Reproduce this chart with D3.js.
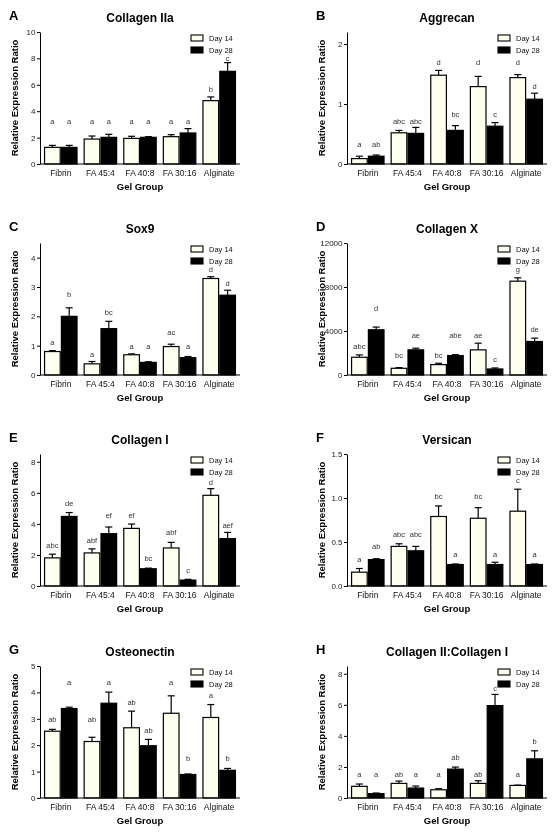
<!DOCTYPE html>
<html><head><meta charset="utf-8">
<script src="https://cdn.jsdelivr.net/npm/d3@7"></script>
<style>
html,body{margin:0;padding:0;background:#fff;}
svg{display:block;font-family:"Liberation Sans",Arial,sans-serif;will-change:transform;-webkit-font-smoothing:antialiased;}
</style></head>
<body>
<svg id="chart" width="555" height="833"></svg>
<script>
const categories = ["Fibrin","FA 45:4","FA 40:8","FA 30:16","Alginate"];
const seriesNames = ["Day 14","Day 28"];
const panelIds = ["A","B","C","D","E","F","G","H"];
const panelTitles = ["Collagen IIa","Aggrecan","Sox9","Collagen X","Collagen I","Versican","Osteonectin","Collagen II:Collagen I"];
const yMaxes = [10, 2.2, 4.5, 12000, 8.5, 1.5, 5, 8.5];
const yTicks = [[0,2,4,6,8,10],[0,1,2],[0,1,2,3,4],[0,4000,8000,12000],[0,2,4,6,8],[0,0.5,1.0,1.5],[0,1,2,3,4,5],[0,2,4,6,8]];
const yTickFormats = ["d","d","d","d","d",".1f","d","d"];
const xLabel = "Gel Group";
const yLabel = "Relative Expression Ratio";

// Day 14 means and SEM
const day14 = [
  [1.26,1.89,1.94,2.07,4.80],
  [0.09,0.52,1.48,1.29,1.44],
  [0.80,0.38,0.69,0.97,3.29],
  [1614,609,944,2285,8529],
  [1.81,2.13,3.71,2.45,5.84],
  [0.157,0.45,0.79,0.77,0.85],
  [2.53,2.14,2.66,3.21,3.05],
  [0.75,0.94,0.53,0.94,0.81]
];
const day14Err = [
  [0.15,0.23,0.16,0.15,0.28],
  [0.04,0.04,0.08,0.17,0.05],
  [0.03,0.08,0.03,0.08,0.06],
  [214,61,122,609,304],
  [0.24,0.26,0.28,0.36,0.43],
  [0.042,0.03,0.12,0.12,0.25],
  [0.07,0.16,0.63,0.66,0.49],
  [0.15,0.15,0.07,0.17,0.02]
];
// Day 28 means and SEM
const day28 = [
  [1.26,2.02,2.02,2.35,7.02],
  [0.13,0.51,0.56,0.63,1.08],
  [2.00,1.58,0.43,0.59,2.72],
  [4112,2285,1767,548,3046],
  [4.48,3.37,1.11,0.38,3.05],
  [0.30,0.40,0.244,0.244,0.244],
  [3.39,3.59,1.98,0.89,1.05],
  [0.28,0.64,1.86,5.95,2.52]
];
const day28Err = [
  [0.15,0.23,0.05,0.33,0.66],
  [0.02,0.10,0.08,0.06,0.10],
  [0.29,0.25,0.02,0.04,0.17],
  [244,152,91,92,305],
  [0.25,0.43,0.04,0.05,0.40],
  [0.01,0.05,0.006,0.026,0.006],
  [0.05,0.42,0.24,0.02,0.07],
  [0.04,0.13,0.13,0.72,0.52]
];
// significance letters and their heights (data units)
const sig14 = [
  ["a","a","a","a","b"],
  ["a","abc","d","d","d"],
  ["a","a","a","ac","d"],
  ["abc","bc","bc","ae","g"],
  ["abc","abf","ef","abf","d"],
  ["a","abc","bc","bc","c"],
  ["ab","ab","ab","a","a"],
  ["a","ab","a","ab","a"]
];
const sig14Y = [
  [3.23,3.23,3.23,3.23,5.63],
  [0.32,0.71,1.68,1.68,1.68],
  [1.09,0.69,0.97,1.43,3.58],
  [2590,1767,1767,3594,9534],
  [2.56,2.94,4.52,3.45,6.67],
  [0.30,0.58,1.01,1.01,1.20],
  [2.97,2.97,3.60,4.35,3.87],
  [1.52,1.52,1.52,1.52,1.52]
];
const sig28 = [
  ["a","a","a","a","c"],
  ["ab","abc","bc","c","d"],
  ["b","bc","a","a","d"],
  ["d","ae","abe","c","de"],
  ["de","ef","bc","c","aef"],
  ["ab","abc","a","a","a"],
  ["a","a","ab","b","b"],
  ["a","a","ab","c","b"]
];
const sig28Y = [
  [3.23,3.23,3.23,3.23,7.95],
  [0.32,0.71,0.82,0.82,1.29],
  [2.74,2.11,0.97,0.97,3.12],
  [6030,3594,3594,1370,4112],
  [5.27,4.52,1.75,1.00,3.88],
  [0.44,0.58,0.356,0.356,0.356],
  [4.35,4.35,2.55,1.47,1.47],
  [1.52,1.52,2.59,7.02,3.64]
];

const colors = {"Day 14":"#fffff0","Day 28":"#000000"};
const svg = d3.select("#chart");

const colX = [40, 347];
const rowTop = [32, 243, 454, 666];
const plotW = 200, plotH = 132;

panelIds.forEach((pid, i) => {
  const ax = colX[i % 2];
  const top = rowTop[Math.floor(i / 2)];
  const bottom = top + plotH;
  const g = svg.append("g");

  const x = d3.scaleBand().domain(categories).range([ax, ax + plotW]).paddingInner(0.15).paddingOuter(0.1);
  const xs = d3.scaleBand().domain(seriesNames).range([0, x.bandwidth()]);
  const y = d3.scaleLinear().domain([0, yMaxes[i]]).range([bottom, top]);

  const rows = [];
  categories.forEach((c, k) => {
    rows.push({cat:c, s:"Day 14", v:day14[i][k], e:day14Err[i][k], sig:sig14[i][k], sy:sig14Y[i][k]});
    rows.push({cat:c, s:"Day 28", v:day28[i][k], e:day28Err[i][k], sig:sig28[i][k], sy:sig28Y[i][k]});
  });

  // error bars (upper only)
  const eb = g.append("g").attr("stroke","#000").attr("stroke-width",1.2);
  rows.forEach(d => {
    const cx = x(d.cat) + xs(d.s) + xs.bandwidth()/2;
    eb.append("line").attr("x1",cx).attr("x2",cx).attr("y1",y(d.v)).attr("y2",y(d.v + d.e));
    eb.append("line").attr("x1",cx-3.5).attr("x2",cx+3.5).attr("y1",y(d.v + d.e)).attr("y2",y(d.v + d.e));
  });

  // bars
  g.append("g").selectAll("rect").data(rows).join("rect")
    .attr("x", d => x(d.cat) + xs(d.s) + 0.6)
    .attr("y", d => y(d.v))
    .attr("width", xs.bandwidth() - 1.2)
    .attr("height", d => y(0) - y(d.v))
    .attr("fill", d => colors[d.s])
    .attr("stroke", "#000").attr("stroke-width", 1.2);

  // significance letters
  g.append("g").selectAll("text").data(rows).join("text")
    .attr("x", d => x(d.cat) + xs(d.s) + xs.bandwidth()/2)
    .attr("y", d => y(d.sy) + 2.2)
    .attr("text-anchor","middle").attr("font-size",7.5).attr("fill","#333")
    .text(d => d.sig);

  // y axis
  const yAxis = d3.axisLeft(y).tickValues(yTicks[i]).tickSize(3).tickSizeOuter(0).tickPadding(1.5)
    .tickFormat(d3.format(yTickFormats[i]));
  const ya = g.append("g").attr("transform",`translate(${ax},0)`).call(yAxis);
  ya.selectAll("text").attr("font-size",8).attr("fill","#222").style("font-family","Liberation Sans, Arial, sans-serif");
  ya.selectAll("path,line").attr("stroke","#000").attr("stroke-width",1);

  // x axis
  const xAxis = d3.axisBottom(x).tickSize(0).tickSizeOuter(0).tickPadding(6);
  const xa = g.append("g").attr("transform",`translate(0,${bottom})`).call(xAxis);
  xa.select(".domain").attr("d", `M${ax},0H${ax+plotW}`).attr("stroke","#000").attr("stroke-width",1);
  xa.selectAll("text").attr("font-size",8.5).attr("fill","#111").style("font-family","Liberation Sans, Arial, sans-serif");

  // axis titles
  g.append("text").attr("x", ax + plotW/2).attr("y", bottom + 26)
    .attr("text-anchor","middle").attr("font-size",9.5).attr("font-weight","bold").text(xLabel);
  g.append("text").attr("transform",`translate(${ax-22},${(top+bottom)/2}) rotate(-90)`)
    .attr("text-anchor","middle").attr("font-size",9.5).attr("font-weight","bold").text(yLabel);

  // title and panel letter
  g.append("text").attr("x", ax + plotW/2).attr("y", top - 10)
    .attr("text-anchor","middle").attr("font-size",12).attr("font-weight","bold").text(panelTitles[i]);
  g.append("text").attr("x", ax - 31).attr("y", top - 12)
    .attr("font-size",13).attr("font-weight","bold").text(pid);

  // legend
  const lg = g.append("g");
  seriesNames.forEach((s, k) => {
    const ly = top + 3 + k * 12;
    lg.append("rect").attr("x", ax + 151).attr("y", ly).attr("width", 12).attr("height", 6)
      .attr("fill", colors[s]).attr("stroke","#000").attr("stroke-width",1.1);
    lg.append("text").attr("x", ax + 169).attr("y", ly + 6).attr("font-size",7.5).attr("fill","#111").text(s);
  });
});
</script>
</body></html>
